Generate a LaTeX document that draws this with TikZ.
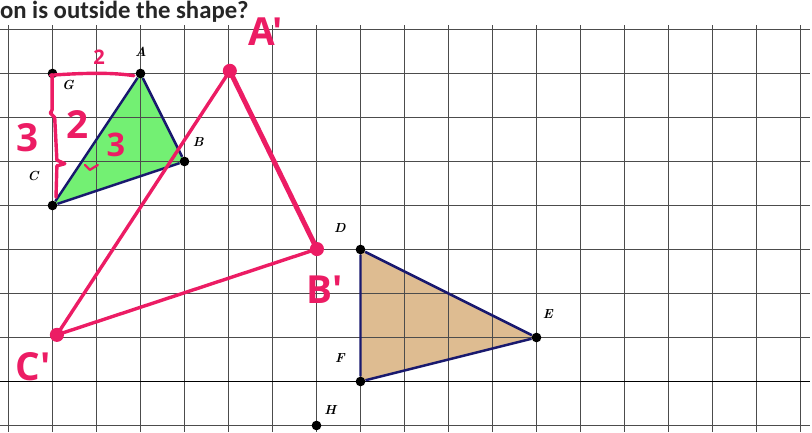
\documentclass[tikz,border=0pt]{standalone}
\usepackage{fontspec}
\newfontfamily\titlefont{Carlito}
\newfontfamily\handfont{Open Sans}
\definecolor{pen}{RGB}{236,28,100}
\definecolor{navy}{RGB}{25,25,110}
\definecolor{leaf}{RGB}{115,240,115}
\definecolor{tan}{RGB}{222,188,145}
\begin{document}
\begin{tikzpicture}[x=1cm,y=-1cm,
  gridline/.style={draw=black!70,line width=1.1pt},
  pt/.style={circle,fill=black,inner sep=0pt,minimum size=0.22cm},
  ppt/.style={circle,fill=pen,inner sep=0pt,minimum size=0.32cm},
  lbl/.style={font=\fontsize{8.5}{10}\selectfont\bfseries\itshape},
  hand/.style={text=pen,inner sep=0pt,font=\handfont\bfseries\fontsize{25}{27}\selectfont},
  side/.style={draw=navy,line width=1.6pt},
  ink/.style={draw=pen,line width=2.2pt,line cap=round,line join=round}]
\useasboundingbox (-0.193,-0.670) rectangle (18.261,9.148);
\node[anchor=base west,inner sep=0pt,text=black!85,font=\titlefont\bfseries\fontsize{16}{18}\selectfont] (title) at (-0.2,-0.26) {on is outside the shape?};
\fill[leaf] (3,1) -- (4,3) -- (1,4) -- cycle;
\fill[tan] (8,5) -- (12,7) -- (8,8) -- cycle;
\foreach \j in {0,...,9} \draw[gridline] (-0.193,\j) -- (18.22,\j);
\foreach \i in {0,...,18} \draw[gridline] (\i,-0.1) -- (\i,9.148);
\draw[gridline,draw=black] (-0.193,8) -- (18.22,8);
\node[pt] (A) at (3,1) {};
\node[pt] (B) at (4,3) {};
\node[pt] (C) at (1,4) {};
\node[pt] (G) at (1,1) {};
\node[pt] (D) at (8,5) {};
\node[pt] (E) at (12,7) {};
\node[pt] (F) at (8,8) {};
\node[pt] (H) at (7,9) {};
\draw[side] (A) -- (B) -- (C) -- (A);
\draw[side] (D) -- (E) -- (F) -- (D);
\node[lbl] (Alabel) at (3.01,0.51) {A};
\node[lbl] (Blabel) at (4.31,2.56) {B};
\node[lbl] (Clabel) at (0.56,3.33) {C};
\node[lbl] (Glabel) at (1.35,1.26) {G};
\node[lbl] (Dlabel) at (7.53,4.51) {D};
\node[lbl] (Elabel) at (12.26,6.47) {E};
\node[lbl] (Flabel) at (7.53,7.47) {F};
\node[lbl] (Hlabel) at (7.31,8.65) {H};
\draw[ink] (0.95,1.04) .. controls (1.8,0.98) and (2.4,0.98) .. (2.85,1.05);
\draw[ink] (0.99,1.03) -- (0.99,1.83) -- (0.95,1.9) -- (1.05,2.0) -- (1.1,2.97) -- (1.28,3.05) -- (1.1,3.1) -- (1.08,3.81);
\draw[ink,line width=1.5pt] (1.74,3.08) -- (1.85,3.19) -- (2.03,3.08);
\node[hand,font=\handfont\bfseries\fontsize{13}{15}\selectfont] (two1) at (2.06,0.62) {2};
\node[hand] (three1) at (0.44,2.47) {3};
\node[hand] (two2) at (1.56,2.15) {2};
\node[hand,font=\handfont\bfseries\fontsize{21}{23}\selectfont] (three2) at (2.44,2.62) {3};
\node[ppt] (A1) at (5.03,0.94) {};
\node[ppt] (B1) at (7.01,4.99) {};
\node[ppt] (C1) at (1.10,6.94) {};
\draw[ink,line width=3.2pt] (A1.center) -- (B1.center);
\draw[ink] (A1.center) -- (C1.center);
\draw[ink] (C1.center) -- (B1.center);
\node[hand] (A1label) at (5.85,0.05) {A'};
\node[hand] (B1label) at (7.19,5.92) {B'};
\node[hand] (C1label) at (0.56,7.67) {C'};
\end{tikzpicture}
\end{document}
